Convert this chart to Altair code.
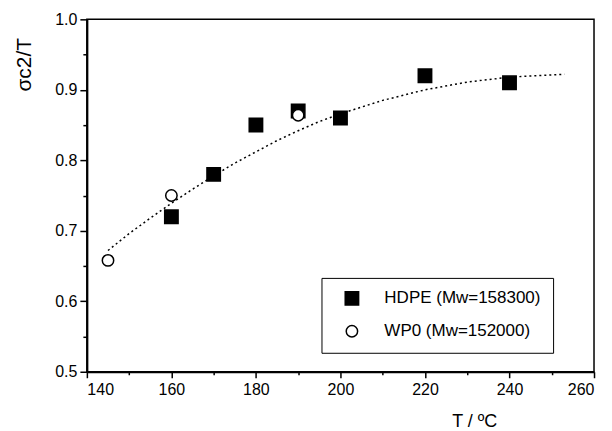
import altair as alt
import pandas as pd

# Measured data
hdpe_T = [160, 170, 180, 190, 200, 220, 240]
hdpe_s = [0.72, 0.78, 0.85, 0.87, 0.86, 0.92, 0.91]
wp0_T = [145, 160, 190]
wp0_s = [0.658, 0.75, 0.864]

# Dotted fit curve
fit_T = [145, 150, 155, 160, 165, 170, 175, 180, 185, 190, 195, 200, 210, 220, 230, 240, 253]
fit_s = [0.672, 0.696, 0.718, 0.739, 0.759, 0.778, 0.796, 0.812, 0.828, 0.842, 0.855, 0.866,
         0.885, 0.900, 0.911, 0.918, 0.922]

series_names = ["HDPE (Mw=158300)\u00a0\u00a0\u00a0\u00a0", "WP0 (Mw=152000)"]
x_ticks = list(range(140, 261, 10))
y_ticks = [round(0.5 + 0.05 * i, 2) for i in range(11)]

pts = pd.DataFrame({
    "T": hdpe_T + wp0_T,
    "s": hdpe_s + wp0_s,
    "series": [series_names[0]] * len(hdpe_T) + [series_names[1]] * len(wp0_T),
})
fit = pd.DataFrame({"T": fit_T, "s": fit_s})

FONT = "Liberation Sans"

x_enc = alt.X("T:Q",
              scale=alt.Scale(domain=[140, 260], nice=False, zero=False),
              axis=alt.Axis(values=x_ticks, title="T / ºC",
                            labelExpr="datum.value % 20 === 0 ? datum.label : ''",
                            tickSize={"condition": {"test": "datum.value % 20 === 0", "value": 6}, "value": 3},
                            labelPadding=4, titleX=388, titleY=55, titleAnchor="start",
                            titleAlign="center", titleBaseline="alphabetic"))
y_enc = alt.Y("s:Q",
              scale=alt.Scale(domain=[0.5, 1.0], nice=False, zero=False),
              axis=alt.Axis(values=y_ticks, title="σc2/T",
                            labelExpr="round(datum.value*100) % 10 === 0 ? format(datum.value, '.1f') : ''",
                            tickSize={"condition": {"test": "round(datum.value*100) % 10 === 0", "value": 7}, "value": 4},
                            labelPadding=3, titleX=-62, titleY=45, titleAngle=270, titleFontSize=21,
                            titleAlign="center", titleBaseline="middle"))

line = alt.Chart(fit).mark_line(color="black", strokeDash=[2, 3], strokeWidth=1.5).encode(
    x=x_enc, y=y_enc
)

legend = alt.Legend(title=None, orient="none", legendX=235, legendY=259,
                    strokeColor="black", fillColor="white", padding=12,
                    symbolOffset=10, labelOffset=24, rowPadding=13,
                    labelFont=FONT, labelFontSize=17, labelColor="black",
                    symbolStrokeWidth=1.5, labelLimit=400)

points = alt.Chart(pts).mark_point(filled=True, strokeWidth=1.5, opacity=1).encode(
    x=x_enc, y=y_enc,
    shape=alt.Shape("series:N", scale=alt.Scale(domain=series_names, range=["square", "circle"]), legend=legend),
    fill=alt.Fill("series:N", scale=alt.Scale(domain=series_names, range=["black", "white"]), legend=legend),
    stroke=alt.Stroke("series:N", scale=alt.Scale(domain=series_names, range=["black", "black"]), legend=legend),
    size=alt.Size("series:N", scale=alt.Scale(domain=series_names, range=[180, 130]), legend=legend),
    order=alt.Order("series:N"),
)

chart = alt.layer(line, points).properties(
    width=508, height=353,
    background="white",
    autosize=alt.AutoSizeParams(type="none"),
    padding={"left": 79, "top": 11, "right": 10, "bottom": 60},
).configure_view(
    stroke="black", strokeWidth=1.5
).configure_axis(
    domainColor="black", domainWidth=2, tickColor="black", tickWidth=1.5,
    labelFont=FONT, labelFontSize=16, labelColor="black",
    titleFont=FONT, titleFontSize=18, titleColor="black", titleFontWeight="normal",
    grid=False
)

chart.save("out.html", embed_options={"renderer": "svg", "actions": False})
